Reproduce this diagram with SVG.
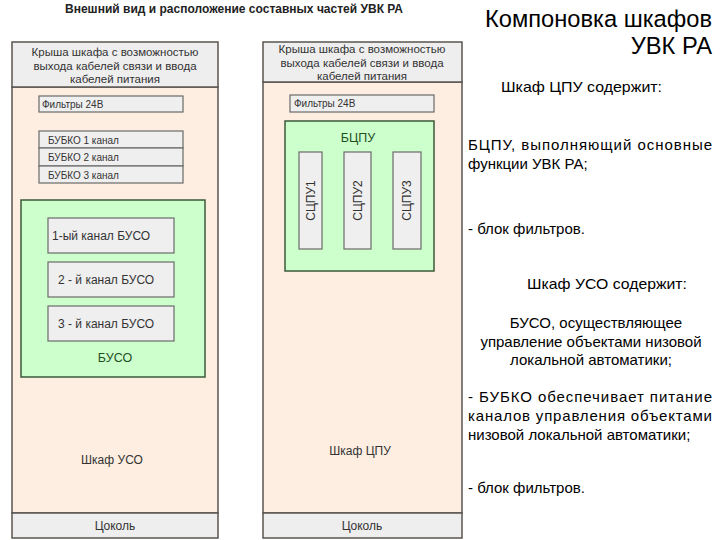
<svg xmlns="http://www.w3.org/2000/svg" width="720" height="540" viewBox="0 0 720 540">
<style>
text{font-family:"Liberation Sans",Arial,sans-serif}
.body{fill:#fdeee1;stroke:#5a5550;stroke-width:1.5}
.roof{fill:#eeeeee;stroke:#5a5550;stroke-width:1.5}
.box{fill:#efefef;stroke:#6a6a6a;stroke-width:1.2}
.green{fill:#ccffcc;stroke:#3a5a3a;stroke-width:1.5}
.t{fill:#333;font-size:12px}
.rf{fill:#333;font-size:11.5px}
.s{fill:#333;font-size:10px}
.g{fill:#1f4f1f;font-size:12.5px}
.r{fill:#000;font-size:15px}
.mid{text-anchor:middle}
</style>
<rect width="720" height="540" fill="#fff"/>
<text x="234" y="12.5" class="mid" style="font-weight:bold;font-size:12.5px;fill:#222" textLength="338" lengthAdjust="spacingAndGlyphs">Внешний вид и расположение составных частей УВК РА</text>

<g id="cab-uso">
<rect class="body" x="12" y="87" width="206" height="426"/>
<rect class="roof" x="12" y="42" width="206" height="45"/>
<text class="rf mid" x="115" y="56">Крыша шкафа с возможностью</text>
<text class="rf mid" x="115" y="69.5">выхода кабелей связи и ввода</text>
<text class="rf mid" x="115" y="83">кабелей питания</text>
<text class="t mid" x="112" y="464">Шкаф УСО</text>
<rect class="roof" x="12" y="513" width="206" height="25"/>
<text class="t mid" x="115" y="530">Цоколь</text>
</g>
<g id="filters-uso">
<rect class="box" x="39" y="96" width="144" height="16"/>
<text class="s" x="42" y="107.5">Фильтры 24В</text>
</g>
<g id="bubko-1"><rect class="box" x="39" y="131" width="144" height="17"/><text class="s" x="48" y="143.5">БУБКО 1 канал</text></g>
<g id="bubko-2"><rect class="box" x="39" y="148" width="144" height="18"/><text class="s" x="48" y="161">БУБКО 2 канал</text></g>
<g id="bubko-3"><rect class="box" x="39" y="166" width="144" height="17"/><text class="s" x="48" y="178.5">БУБКО 3 канал</text></g>
<g id="buso">
<rect class="green" x="21" y="200" width="184" height="177"/>
<text class="g mid" x="115" y="362">БУСО</text>
</g>
<g id="buso-1"><rect class="box" x="48" y="218" width="126" height="35"/><text class="t" x="52" y="240">1-ый канал БУСО</text></g>
<g id="buso-2"><rect class="box" x="48" y="262" width="126" height="35"/><text class="t" x="58" y="284">2 - й канал БУСО</text></g>
<g id="buso-3"><rect class="box" x="48" y="306" width="126" height="35"/><text class="t" x="58" y="328">3 - й канал БУСО</text></g>

<g id="cab-cpu">
<rect class="body" x="263" y="82" width="199" height="431"/>
<rect class="roof" x="263" y="42" width="199" height="40"/>
<text class="rf mid" x="362" y="53">Крыша шкафа с возможностью</text>
<text class="rf mid" x="362" y="66.5">выхода кабелей связи и ввода</text>
<text class="rf mid" x="362" y="80">кабелей питания</text>
<text class="t mid" x="360" y="455">Шкаф ЦПУ</text>
<rect class="roof" x="263" y="513" width="199" height="25"/>
<text class="t mid" x="362" y="530">Цоколь</text>
</g>
<g id="filters-cpu">
<rect class="box" x="290" y="95" width="144" height="17"/>
<text class="s" x="294" y="107">Фильтры 24В</text>
</g>
<g id="bcpu">
<rect class="green" x="285" y="121" width="149" height="150"/>
<text class="g mid" x="358" y="142">БЦПУ</text>
</g>
<g id="scpu-1"><rect class="box" x="299" y="152" width="23" height="97"/><text class="t mid" transform="translate(315,200.5) rotate(-90)" x="0" y="0">СЦПУ1</text></g>
<g id="scpu-2"><rect class="box" x="344" y="152" width="27" height="97"/><text class="t mid" transform="translate(362,200.5) rotate(-90)" x="0" y="0">СЦПУ2</text></g>
<g id="scpu-3"><rect class="box" x="393" y="152" width="28" height="97"/><text class="t mid" transform="translate(411,200.5) rotate(-90)" x="0" y="0">СЦПУ3</text></g>

<g id="connectors"></g>

<g id="title">
<text x="712" y="27" text-anchor="end" style="font-size:23.7px;fill:#000">Компоновка шкафов</text>
<text x="712" y="54" text-anchor="end" style="font-size:23.7px;fill:#000">УВК РА</text>
</g>
<g id="desc">
<text class="r" x="501" y="92" textLength="161" lengthAdjust="spacingAndGlyphs">Шкаф ЦПУ содержит:</text>
<text class="r" x="468" y="150" textLength="244" lengthAdjust="spacing">БЦПУ, выполняющий основные</text>
<text class="r" x="468" y="169">функции УВК РА;</text>
<text class="r" x="468" y="234">- блок фильтров.</text>
<text class="r" x="527" y="289" textLength="160" lengthAdjust="spacingAndGlyphs">Шкаф УСО содержит:</text>
<text class="r mid" x="596" y="328">БУСО, осуществляющее</text>
<text class="r mid" x="591" y="347">управление объектами низовой</text>
<text class="r mid" x="591" y="365">локальной автоматики;</text>
<text class="r" x="468" y="402" textLength="244" lengthAdjust="spacing">- БУБКО обеспечивает питание</text>
<text class="r" x="468" y="421" textLength="244" lengthAdjust="spacing">каналов управления объектами</text>
<text class="r" x="468" y="440">низовой локальной автоматики;</text>
<text class="r" x="468" y="493">- блок фильтров.</text>
</g>
</svg>
